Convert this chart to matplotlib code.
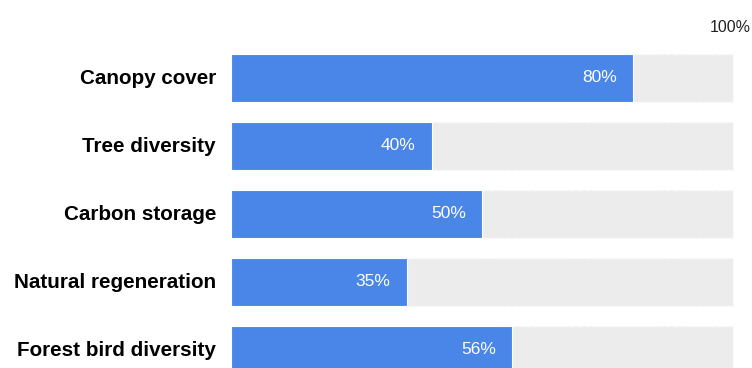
import matplotlib.pyplot as plt

plt.rcParams['font.family'] = ['Liberation Sans', 'DejaVu Sans']

categories = ['Canopy cover', 'Tree diversity', 'Carbon storage',
              'Natural regeneration', 'Forest bird diversity']
values = [80, 40, 50, 35, 56]
full = 100

blue = '#4a86e8'
grey = '#ececec'

fig = plt.figure(figsize=(7.52, 3.68), dpi=100)
ax = fig.add_axes([0, 0, 1, 1])

ypos = list(range(len(categories)))
# background track for 100%
ax.barh(ypos, [full] * len(categories), height=0.71, color=grey,
        edgecolor='#fafafa', linestyle='--', linewidth=1.0, zorder=1)
ax.barh(ypos, values, height=0.71, color=blue, edgecolor='white',
        linewidth=0.8, zorder=2)

for y, cat, v in zip(ypos, categories, values):
    ax.text(-3.0, y, cat, ha='right', va='center', fontsize=14.9,
            fontweight='bold', color='black')
    ax.text(v - 3.2, y, f'{v}%', ha='right', va='center', fontsize=12.5,
            color='white')

ax.text(103.6, -0.75, '100%', ha='right', va='center', fontsize=11.5,
        color='#222222')

# map pixels: bar start at x=231px, 100% at 733px; bar centres 78px + 68px*i
ax.set_xlim(-231 * 100 / 502, (752 - 231) * 100 / 502)
ax.set_ylim((368 - 78) / 68, -78 / 68)
ax.axis('off')

fig.savefig('out.png', dpi=100, facecolor='white')
